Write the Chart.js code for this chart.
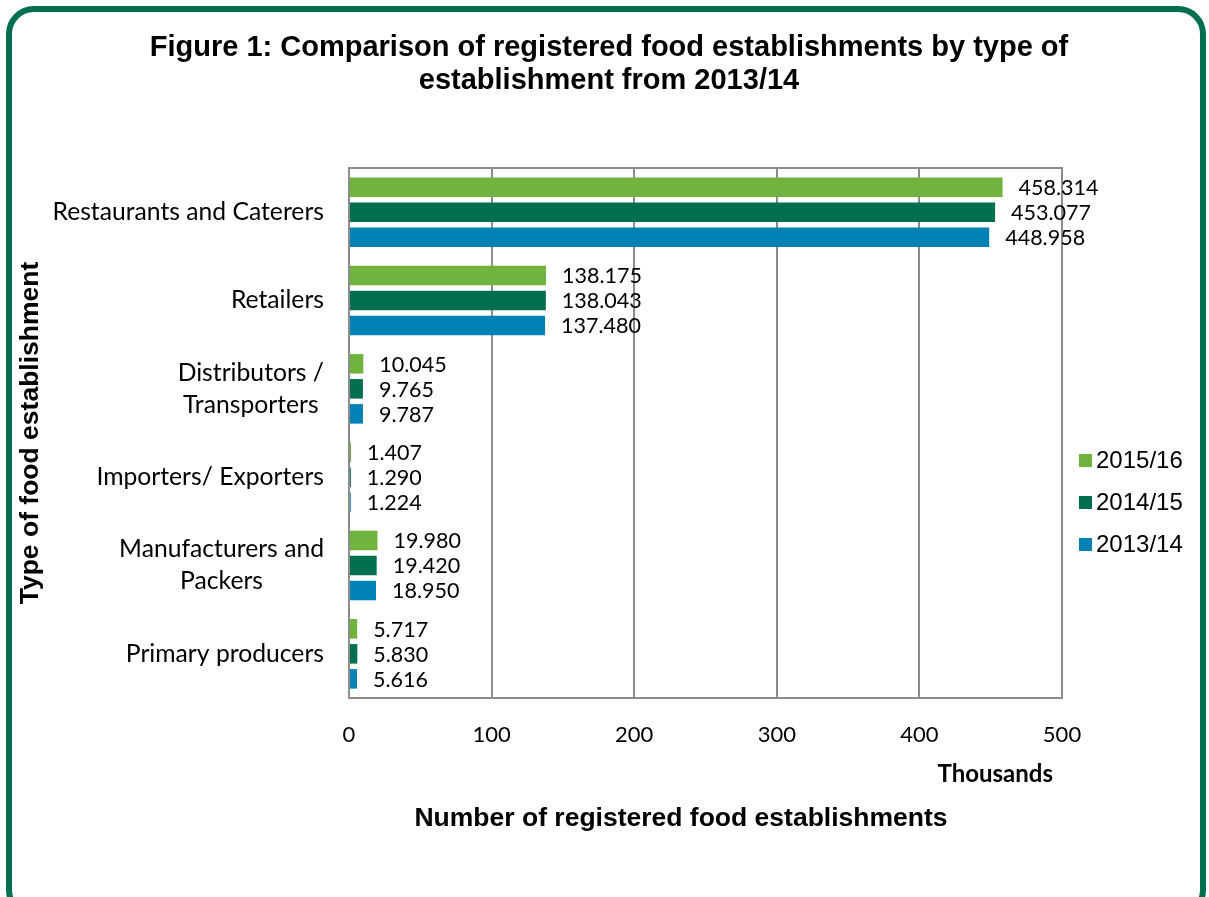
<!DOCTYPE html>
<html>
<head>
<meta charset="utf-8">
<title>Registered food establishments</title>
<script src="https://cdn.jsdelivr.net/npm/chart.js@4/dist/chart.umd.min.js"></script>
<style>
  html, body { margin: 0; padding: 0; background: #fff; overflow: hidden; }
  #wrap { position: relative; width: 1209px; height: 897px; }
  #frame {
    position: absolute; left: 6px; top: 6px; width: 1188px; height: 900px;
    border: 6px solid #006f4f; border-radius: 28px; pointer-events: none;
  }
  canvas { position: absolute; left: 0; top: 0; }
</style>
</head>
<body>
<div id="wrap">
  <canvas id="foodChart" width="1209" height="897"></canvas>
  <div id="frame"></div>
</div>
<script>
// Chart data (thousands)
const categories = [
  ["Restaurants and Caterers"],
  ["Retailers"],
  ["Distributors /", "Transporters"],
  ["Importers/ Exporters"],
  ["Manufacturers and", "Packers"],
  ["Primary producers"],
];
const seriesLabels = ["2015/16", "2014/15", "2013/14"];
const values2015 = [458.314, 138.175, 10.045, 1.407, 19.98, 5.717];
const values2014 = [453.077, 138.043, 9.765, 1.29, 19.42, 5.83];
const values2013 = [448.958, 137.48, 9.787, 1.224, 18.95, 5.616];
const seriesColors = ["#70b33f", "#006f4f", "#0081b4"];
const xTicks = [0, 100, 200, 300, 400, 500];

const titleLines = [
  "Figure 1: Comparison of registered food establishments by type of",
  "establishment from 2013/14",
];
const xTitle = "Number of registered food establishments";
const yTitle = "Type of food establishment";
const unitLabel = "Thousands";

const bodyFont = "Lato, 'Open Sans', sans-serif";
const headFont = "'Liberation Sans', Arial, sans-serif";

// Extra drawing: frame box, titles, category labels, value labels, legend
const decorPlugin = {
  id: "decor",
  beforeDatasetsDraw(chart) {
    const { ctx, chartArea: a } = chart;
    ctx.save();
    ctx.strokeStyle = "#8c8c8c";
    ctx.lineWidth = 2;
    ctx.strokeRect(a.left, a.top, a.right - a.left, a.bottom - a.top);
    ctx.restore();
  },
  afterDraw(chart) {
    const { ctx, chartArea: a } = chart;
    const yScale = chart.scales.y;
    ctx.save();
    ctx.fillStyle = "#000";

    // Title
    ctx.font = "bold 29px " + headFont;
    ctx.textAlign = "center";
    ctx.textBaseline = "middle";
    titleLines.forEach((line, i) => ctx.fillText(line, 609, 48 + i * 33));

    // Axis titles
    ctx.font = "bold 26.5px " + headFont;
    ctx.fillText(xTitle, 681, 819);
    ctx.save();
    ctx.translate(31, 433);
    ctx.rotate(-Math.PI / 2);
    ctx.fillText(yTitle, 0, 0);
    ctx.restore();

    ctx.font = "bold 24px " + bodyFont;
    ctx.textAlign = "right";
    ctx.fillText(unitLabel, 1053, 774);

    // Category labels (lines centred, block right aligned)
    ctx.font = "24.7px " + bodyFont;
    ctx.textAlign = "center";
    categories.forEach((lines, i) => {
      const yc = yScale.getPixelForTick(i);
      const w = Math.max(...lines.map((l) => ctx.measureText(l).width));
      const cx = a.left - 25 - w / 2;
      const top = yc - ((lines.length - 1) * 32) / 2;
      lines.forEach((l, j) => ctx.fillText(l, cx, top + j * 32));
    });

    // Value labels at bar ends
    ctx.font = "21.5px " + bodyFont;
    ctx.textAlign = "left";
    chart.data.datasets.forEach((ds, di) => {
      chart.getDatasetMeta(di).data.forEach((bar, i) => {
        ctx.fillText(ds.data[i].toFixed(3), bar.x + 16, bar.y + 1);
      });
    });

    // Legend
    ctx.font = "24px " + headFont;
    chart.data.datasets.forEach((ds, di) => {
      const yc = 460 + di * 42;
      ctx.fillStyle = ds.backgroundColor;
      ctx.fillRect(1079, yc - 6, 13, 13);
      ctx.fillStyle = "#000";
      ctx.fillText(ds.label, 1096, yc + 1);
    });
    ctx.restore();
  },
};

const ctx = document.getElementById("foodChart").getContext("2d");
new Chart(ctx, {
  type: "bar",
  data: {
    labels: categories,
    datasets: [
      { label: seriesLabels[0], data: values2015, backgroundColor: seriesColors[0] },
      { label: seriesLabels[1], data: values2014, backgroundColor: seriesColors[1] },
      { label: seriesLabels[2], data: values2013, backgroundColor: seriesColors[2] },
    ],
  },
  options: {
    indexAxis: "y",
    responsive: false,
    animation: false,
    devicePixelRatio: 1,
    categoryPercentage: 0.85,
    barPercentage: 0.78,
    layout: { padding: { top: 168, right: 147, bottom: 0, left: 0 } },
    plugins: {
      legend: { display: false },
      title: { display: false },
      tooltip: { enabled: false },
    },
    scales: {
      x: {
        min: 0,
        max: 500,
        afterBuildTicks: (scale) => {
          scale.ticks = xTicks.map((v) => ({ value: v }));
        },
        afterFit: (scale) => {
          scale.height = 199;
        },
        grid: { color: "#8c8c8c", lineWidth: 2, drawTicks: false },
        border: { display: false },
        ticks: {
          color: "#000",
          padding: 24,
          font: { family: bodyFont, size: 22 },
        },
      },
      y: {
        afterFit: (scale) => {
          scale.width = 349;
        },
        grid: { display: false, drawTicks: false },
        border: { display: false },
        ticks: { display: false },
      },
    },
  },
  plugins: [decorPlugin],
});
</script>
</body>
</html>
